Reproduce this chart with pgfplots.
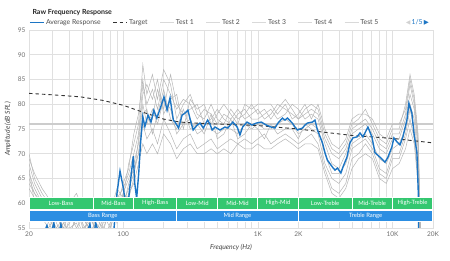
\documentclass[border=0pt]{standalone}
\usepackage{fontspec}
\setmainfont{Lato}
\newfontfamily\djv{DejaVu Sans}
\usepackage{pgfplots}
\pgfplotsset{compat=1.18}
\usepackage{pgfplotstable}
\definecolor{avgblue}{RGB}{28,117,196}
\definecolor{bandgreen}{RGB}{52,199,112}
\definecolor{bandblue}{RGB}{44,142,226}
\definecolor{testgray}{RGB}{182,182,182}
\definecolor{gridgray}{RGB}{224,224,224}
\definecolor{ticktext}{RGB}{110,110,110}

\pgfplotstableread{
f v
20 52
22.2 50
25 53
27.2 55.5
28.6 53
30.6 56
32.2 52
34.5 55.8
37 51
41.7 48
47.8 50
52.4 53
56.7 55.8
59.3 52
62.6 56
67.3 53
73.3 50
79.9 53
85.6 55
90 62
94.8 66.5
99.7 63.5
105 59.5
109 60
115 66
119 69.5
122 64
126 61
130.5 66
135 72.5
140 77.5
145 75.5
153 77.8
161 76.4
169 78.8
178 77.2
190 79.4
201 81.5
212 78.8
223 81.3
236 76.8
243 76.4
258 75.2
274 77.8
288 78.2
303 78.8
313 77.2
331 74.8
355 75.8
372 76.2
394 75.2
424 76.8
441 76.0
458 74.8
481 75.4
524 74.8
570 75.4
599 75.2
653 76.4
703 75.4
737 73.8
772 75.4
831 76.4
906 75.8
975 76.2
1061 76.4
1155 75.8
1257 75.4
1341 75.2
1412 76.2
1523 77.2
1591 76.8
1659 77.2
1804 76.2
1888 75.4
1975 74.8
2148 75.2
2240 75.8
2336 76.2
2545 76.4
2658 76.8
2773 74.8
3020 72.2
3154 70.2
3290 68.7
3584 67.3
3742 66.7
3906 67.1
4141 66.1
4286 67.3
4590 69.3
4837 72.2
5083 73.2
5446 73.4
5740 74.2
6036 73.4
6572 75.4
7038 73.4
7419 70.2
8081 69.3
8803 68.3
9254 69.3
9906 71.4
10250 73.2
10790 72.4
11378 71.8
11950 73.4
12800 76.8
13250 80.2
13940 78.2
14430 74.2
15190 70.2
15560 62
15700 40
}\avg

\pgfplotstableread{
f v
20 82.2
30 81.9
48 81.5
70 80.8
100 79.8
140 78.4
200 77.0
264 76.4
400 76.1
1000 75.7
2000 75.0
3000 74.4
5000 73.7
10000 73.1
20000 72.2
}\tgt

\pgfplotstableread{
f t1 t2 t3 t4 t5 t6 t7 t8
20    68 63 66 70 64 67 65 69
22    64 61 63 65 62 60 62 66
25    61 58 60 62 59 57 60 63
28    59 56 57 60 58 55 57 61
32    57 53 59 56 55 58 54 58
36    55 56 54 53 57 55 56 59
40    58 54 56 57 53 55 58 60
45    61 57 59 60 58 56 55 62
50    57 54 56 55 58 53 57 59
56    55 57 53 56 54 58 55 56
63    53 55 57 52 56 54 53 58
71    57 52 55 56 54 58 55 57
80    59 56 58 57 60 55 54 61
90    61 58 63 60 57 59 62 56
100   63 60 61 58 62 64 59 62
110   66 63 68 62 65 67 64 61
120   70 66 72 64 68 74 67 65
130   74 70 76 68 72 78 70 73
140   84 76 88 72 80 85 78 82
150   80 73 82 70 76 78 79 84
165   83 75 86 72 79 77 74 81
180   79 72 81 70 76 83 78 85
200   85 77 87 74 81 79 83 78
225   82 74 84 72 79 86 77 81
250   79 71 77 69 74 80 75 82
280   81 73 80 71 76 78 79 75
315   80 74 82 72 77 79 75 81
355   77 71 78 70 74 80 76 79
400   79 72 77 70 75 76 74 80
450   78 73 80 71 75 77 78 76
500   76 71 77 70 74 79 73 78
560   78 72 76 71 75 77 74 80
630   77 73 79 70 75 76 77 78
710   79 72 77 72 74 78 73 76
800   77 73 78 71 76 79 74 80
900   78 72 80 71 75 77 76 79
1000  79 73 78 72 76 77 75 80
1120  77 74 79 71 75 78 73 80
1250  78 72 77 71 75 79 76 80
1400  80 73 79 72 76 77 74 78
1600  79 74 81 73 77 78 75 80
1800  78 73 79 72 76 80 75 77
2000  77 72 77 71 74 79 73 78
2240  78 73 79 72 75 77 76 80
2500  79 74 80 72 76 78 75 77
2800  78 72 79 71 75 77 74 80
3150  73 67 74 66 70 72 68 75
3550  70 63 71 62 66 68 65 72
4000  69 62 70 61 66 67 64 71
4500  71 64 72 63 68 70 66 73
5000  75 69 76 67 72 74 71 77
5600  76 70 77 69 73 75 72 78
6300  77 72 79 70 74 76 73 78
7100  75 70 76 69 72 74 71 77
8000  72 66 73 65 69 71 67 74
9000  71 65 72 64 68 70 66 73
10000 74 69 75 67 71 73 70 76
11200 74 69 75 68 72 73 70 76
12500 78 73 80 71 75 77 74 79
13500 84 77 86 75 80 82 79 85
14500 80 73 82 72 77 79 75 81
15500 72 65 74 64 69 71 67 73
16500 45 40 45 40 42 43 41 44
}\tests

\begin{document}
\begin{tikzpicture}
\useasboundingbox (-29pt,-32pt) rectangle (421pt,228pt);
\begin{axis}[
  scale only axis, width=404pt, height=198pt,
  xmode=log, xmin=20, xmax=20000, ymin=55, ymax=95,
  xtick={20,100,1000,2000,10000,20000},
  xticklabels={20,100,1K,2K,10K,20K},
  minor xtick={30,40,50,60,70,80,90,200,300,400,500,600,700,800,900,3000,4000,5000,6000,7000,8000,9000},
  ytick={55,60,65,70,75,80,85,90,95},
  grid=both,
  major grid style={gridgray, line width=0.5pt},
  minor grid style={gridgray, line width=0.5pt},
  axis line style={gridgray, line width=0.5pt},
  tick style={draw=none},
  tick label style={font=\fontsize{6.5}{7}\selectfont, text=ticktext},
  /pgf/number format/assume math mode=true,
  xlabel={\itshape Frequency (Hz)},
  ylabel={\itshape Amplitude (dB SPL)},
  label style={font=\fontsize{6.8}{8}\selectfont, text=black!75},
  xlabel style={yshift=-1pt},
  legend columns=-1,
  legend style={at={(0,1.037)}, anchor=west, draw=none, fill=none,
    font=\fontsize{6.8}{8}\selectfont, text=black!70, inner sep=0pt,
    /tikz/every even column/.append style={column sep=10.5pt},
    nodes={inner sep=1.5pt}},
  legend image code/.code={\draw[#1] (0pt,0pt) -- (14pt,0pt);},
]
\addlegendimage{avgblue, line width=1.4pt}
\addlegendentry{Average Response}
\addlegendimage{black!80, line width=1pt, dash pattern=on 3.5pt off 3pt}
\addlegendentry{Target}
\addlegendimage{gray!30, line width=0.8pt}
\addlegendentry{Test 1}
\addlegendimage{gray!30, line width=0.8pt}
\addlegendentry{Test 2}
\addlegendimage{gray!30, line width=0.8pt}
\addlegendentry{Test 3}
\addlegendimage{gray!30, line width=0.8pt}
\addlegendentry{Test 4}
\addlegendimage{gray!30, line width=0.8pt}
\addlegendentry{Test 5}

\addplot[gray!40, line width=1.2pt, forget plot] coordinates {(20,76) (20000,76)};

\addplot[testgray, line width=0.5pt, forget plot] table[x=f,y=t1]{\tests};
\addplot[testgray, line width=0.5pt, forget plot] table[x=f,y=t2]{\tests};
\addplot[testgray, line width=0.5pt, forget plot] table[x=f,y=t3]{\tests};
\addplot[testgray, line width=0.5pt, forget plot] table[x=f,y=t4]{\tests};
\addplot[testgray, line width=0.5pt, forget plot] table[x=f,y=t5]{\tests};
\addplot[testgray, line width=0.5pt, forget plot] table[x=f,y=t6]{\tests};
\addplot[testgray, line width=0.5pt, forget plot] table[x=f,y=t7]{\tests};
\addplot[testgray, line width=0.5pt, forget plot] table[x=f,y=t8]{\tests};

\addplot[black!80, line width=0.9pt, dash pattern=on 3.5pt off 3pt, forget plot] table[x=f,y=v]{\tgt};
\addplot[avgblue, line width=1.4pt, forget plot] table[x=f,y=v]{\avg};

% bands
\addplot[fill=bandgreen, draw=white, line width=0.8pt, forget plot] coordinates {(20,58.8) (60,58.8) (60,61.2) (20,61.2)} -- cycle;
\addplot[fill=bandgreen, draw=white, line width=0.8pt, forget plot] coordinates {(60,58.8) (120,58.8) (120,61.2) (60,61.2)} -- cycle;
\addplot[fill=bandgreen, draw=white, line width=0.8pt, forget plot] coordinates {(120,58.8) (250,58.8) (250,61.2) (120,61.2)} -- cycle;
\addplot[fill=bandgreen, draw=white, line width=0.8pt, forget plot] coordinates {(250,58.8) (500,58.8) (500,61.2) (250,61.2)} -- cycle;
\addplot[fill=bandgreen, draw=white, line width=0.8pt, forget plot] coordinates {(500,58.8) (1000,58.8) (1000,61.2) (500,61.2)} -- cycle;
\addplot[fill=bandgreen, draw=white, line width=0.8pt, forget plot] coordinates {(1000,58.8) (2000,58.8) (2000,61.2) (1000,61.2)} -- cycle;
\addplot[fill=bandgreen, draw=white, line width=0.8pt, forget plot] coordinates {(2000,58.8) (5000,58.8) (5000,61.2) (2000,61.2)} -- cycle;
\addplot[fill=bandgreen, draw=white, line width=0.8pt, forget plot] coordinates {(5000,58.8) (10000,58.8) (10000,61.2) (5000,61.2)} -- cycle;
\addplot[fill=bandgreen, draw=white, line width=0.8pt, forget plot] coordinates {(10000,58.8) (19800,58.8) (19800,61.2) (10000,61.2)} -- cycle;
\addplot[fill=bandblue, draw=white, line width=0.8pt, forget plot] coordinates {(20,56.3) (250,56.3) (250,58.6) (20,58.6)} -- cycle;
\addplot[fill=bandblue, draw=white, line width=0.8pt, forget plot] coordinates {(250,56.3) (2000,56.3) (2000,58.6) (250,58.6)} -- cycle;
\addplot[fill=bandblue, draw=white, line width=0.8pt, forget plot] coordinates {(2000,56.3) (19800,56.3) (19800,58.6) (2000,58.6)} -- cycle;

\begin{scope}[every node/.style={font=\fontsize{5.9}{6}\selectfont, text=white}]
\node at (axis cs:34.6,60) {Low-Bass};
\node at (axis cs:84.9,60) {Mid-Bass};
\node at (axis cs:173,60) {High-Bass};
\node at (axis cs:354,60) {Low-Mid};
\node at (axis cs:707,60) {Mid-Mid};
\node at (axis cs:1414,60) {High-Mid};
\node at (axis cs:3162,60) {Low-Treble};
\node at (axis cs:7071,60) {Mid-Treble};
\node at (axis cs:14100,60) {High-Treble};
\node at (axis cs:70.7,57.45) {Bass Range};
\node at (axis cs:707,57.45) {Mid Range};
\node at (axis cs:6325,57.45) {Treble Range};
\end{scope}
\end{axis}
\node[anchor=base west, font=\bfseries\fontsize{7}{8}\selectfont, text=black!85] at (0pt,213.5pt) {Raw Frequency Response};
\node[anchor=east, inner sep=0pt, font=\fontsize{6.8}{8}\selectfont, text=avgblue] at (400pt,205.3pt) {{\djv\color{gray!35}\fontsize{6}{7}\selectfont ◀}\,1/5\,{\djv\fontsize{6.5}{7}\selectfont ▶}};
\end{tikzpicture}
\end{document}
